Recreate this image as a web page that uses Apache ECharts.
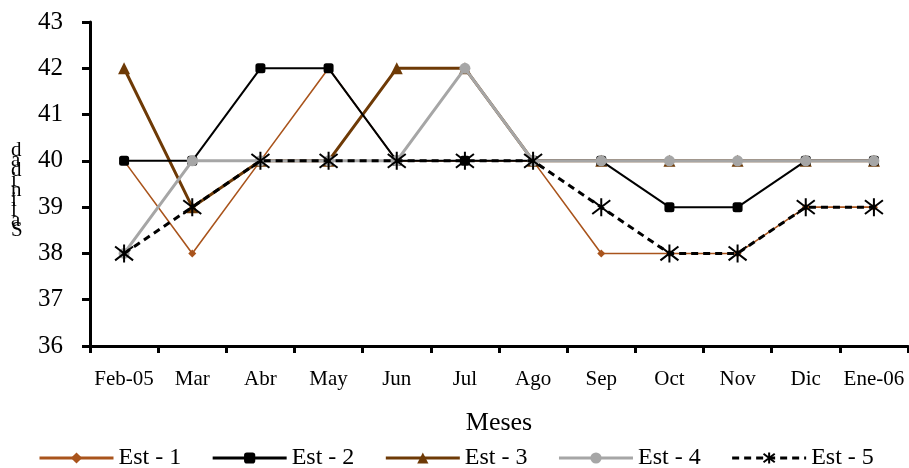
<!DOCTYPE html>
<html>
<head>
<meta charset="utf-8">
<script src="https://cdn.jsdelivr.net/npm/echarts@6/dist/echarts.min.js"></script>
<style>
  html, body { margin: 0; padding: 0; background: #fff; }
  #chart { width: 909px; height: 468px; }
</style>
</head>
<body>
<div id="chart"></div>
<script>
// Monthly salinity at five stations
const months = ['Feb-05', 'Mar', 'Abr', 'May', 'Jun', 'Jul', 'Ago', 'Sep', 'Oct', 'Nov', 'Dic', 'Ene-06'];
const est1 = [40, 38, 40, 42, 40, 40, 40, 38, 38, 38, 39, 39];
const est2 = [40, 40, 42, 42, 40, 40, 40, 40, 39, 39, 40, 40];
const est3 = [42, 39, 40, 40, 42, 42, 40, 40, 40, 40, 40, 40];
const est4 = [38, 40, 40, 40, 40, 42, 40, 40, 40, 40, 40, 40];
const est5 = [38, 39, 40, 40, 40, 40, 40, 39, 38, 38, 39, 39];

const serif = 'Liberation Serif';
const asterisk = 'path://M0,0L20,20M20,0L0,20M10,-3L10,23';

const chart = echarts.init(document.getElementById('chart'), null, { renderer: 'canvas' });

chart.setOption({
  animation: false,
  backgroundColor: '#fff',
  grid: { left: 90, right: 1, top: 22, bottom: 122 },
  legend: {
    left: 33,
    top: 441,
    itemWidth: 74,
    itemHeight: 14,
    itemGap: 30,
    lineStyle: { width: 3 },
    textStyle: { fontFamily: serif, fontSize: 24, color: '#000' },
    data: ['Est - 1', 'Est - 2', 'Est - 3', 'Est - 4', 'Est - 5']
  },
  graphic: [{
    type: 'text',
    left: 11,
    top: 140,
    style: {
      text: 'Salinidad'.split('').reverse().join('\n'),
      font: '21px "Liberation Serif"',
      lineHeight: 10,
      fill: '#000',
      align: 'center'
    }
  }],
  xAxis: {
    type: 'category',
    data: months,
    boundaryGap: true,
    name: 'Meses',
    nameLocation: 'middle',
    nameGap: 64,
    nameTextStyle: { fontFamily: serif, fontSize: 26, color: '#000' },
    axisLine: { lineStyle: { color: '#000', width: 3 } },
    axisTick: { show: true, length: 7, lineStyle: { color: '#000', width: 3 } },
    axisLabel: { fontFamily: serif, fontSize: 21, color: '#000', margin: 23, interval: 0 },
    splitLine: { show: false }
  },
  yAxis: {
    type: 'value',
    min: 36,
    max: 43,
    interval: 1,
    axisLine: { show: true, lineStyle: { color: '#000', width: 3 } },
    axisTick: { show: true, length: 8, lineStyle: { color: '#000', width: 3 } },
    axisLabel: { fontFamily: serif, fontSize: 25, color: '#000', margin: 27 },
    splitLine: { show: false }
  },
  series: [
    {
      name: 'Est - 1', type: 'line', data: est1, z: 2,
      symbol: 'diamond', symbolSize: 8,
      lineStyle: { color: '#A9541C', width: 1.6 },
      itemStyle: { color: '#A9541C' }
    },
    {
      name: 'Est - 3', type: 'line', data: est3, z: 3,
      symbol: 'triangle', symbolSize: 12,
      lineStyle: { color: '#6E3A06', width: 3 },
      itemStyle: { color: '#6E3A06' }
    },
    {
      name: 'Est - 2', type: 'line', data: est2, z: 4,
      symbol: 'roundRect', symbolSize: 10,
      lineStyle: { color: '#000', width: 2 },
      itemStyle: { color: '#000' }
    },
    {
      name: 'Est - 4', type: 'line', data: est4, z: 5,
      symbol: 'circle', symbolSize: 11,
      lineStyle: { color: '#A6A6A6', width: 3 },
      itemStyle: { color: '#A6A6A6' }
    },
    {
      name: 'Est - 5', type: 'line', data: est5, z: 6,
      symbol: asterisk, symbolSize: 18,
      lineStyle: { color: '#000', width: 3, type: [7, 5] },
      itemStyle: { color: '#000', borderColor: '#000', borderWidth: 2 }
    }
  ]
});
</script>
</body>
</html>
